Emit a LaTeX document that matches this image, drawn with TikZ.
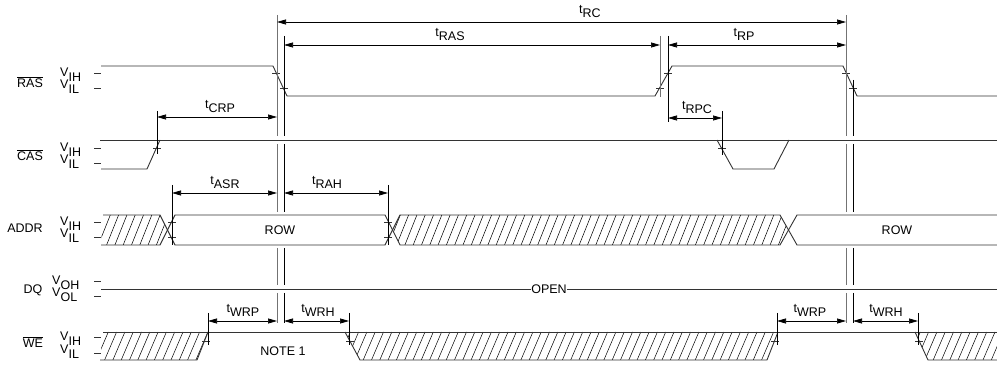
\documentclass[tikz,border=0pt]{standalone}
\usepackage{fontspec}
\setmainfont{Liberation Sans}
\usetikzlibrary{arrows.meta}
\newcommand{\lo}[1]{\raisebox{-4.5pt}{#1}}

\begin{document}
\begin{tikzpicture}[x=1pt,y=-1pt,
  wave/.style={black!80,line width=0.9pt},
  refg/.style={black!55,line width=1pt},
  refk/.style={black,line width=0.7pt},
  dim/.style={black,line width=0.7pt,{Triangle[length=9pt,width=5pt]}-{Triangle[length=9pt,width=5pt]}},
  hatch/.style={black,line width=0.5pt},
  lab/.style={font=\fontsize{12.5}{14}\selectfont,inner sep=0pt}]
\useasboundingbox (0,0) rectangle (997,366);

% signal names and levels
\node[lab] (nRAS) at (30,82) {$\overline{\mbox{RAS}}$};
\node[lab] (nCAS) at (30,155) {$\overline{\mbox{CAS}}$};
\node[lab] (nADDR) at (25,228) {ADDR};
\node[lab] (nDQ) at (33,290) {DQ};
\node[lab] (nWE) at (33,342) {$\overline{\mbox{WE}}$};
\node[lab,anchor=base west] (rasH) at (60,77) {V\lo{IH}};
\node[lab,anchor=base west] (rasL) at (60,89) {V\lo{IL}};
\node[lab,anchor=base west] (casH) at (60,152) {V\lo{IH}};
\node[lab,anchor=base west] (casL) at (60,164) {V\lo{IL}};
\node[lab,anchor=base west] (adrH) at (60,226) {V\lo{IH}};
\node[lab,anchor=base west] (adrL) at (60,238) {V\lo{IL}};
\node[lab,anchor=base west] (dqH) at (52,285) {V\lo{OH}};
\node[lab,anchor=base west] (dqL) at (52,297) {V\lo{OL}};
\node[lab,anchor=base west] (weH) at (60,341) {V\lo{IH}};
\node[lab,anchor=base west] (weL) at (60,354) {V\lo{IL}};
\foreach \y in {73,88,148,163,222,237,281,296,337,353}
  \draw[wave] (94,\y) -- (101,\y);

% RAS
\draw[wave] (101,66) -- (273,66) -- (287,96) -- (655,96) -- (672,66) -- (843,66) -- (857,96) -- (997,96);
% CAS
\draw[wave] (100,140) -- (997,140);
\draw[wave] (101,169) -- (147,169) -- (160,140);
\draw[wave] (717,140) -- (733,169) -- (774,169) -- (789,140);
% ADDR
\begin{scope}
\clip (103,215) -- (160,215) -- (167.5,230) -- (160,245) -- (101,245) -- cycle;
\foreach \x in {90,98.3,...,180} \draw[hatch] (\x,245) -- (\x+12,215);
\end{scope}
\begin{scope}
\clip (400,215) -- (780,215) -- (788.5,230) -- (780,245) -- (400,245) -- (392.5,230) -- cycle;
\foreach \x in {380,388.3,...,800} \draw[hatch] (\x,245) -- (\x+12,215);
\end{scope}
\draw[wave] (103,215) -- (160,215) -- (175,245) -- (385,245) -- (400,215) -- (780,215) -- (797,245) -- (997,245);
\draw[wave] (101,245) -- (160,245) -- (175,215) -- (385,215) -- (400,245) -- (780,245) -- (797,215) -- (997,215);
\node[lab] (row1) at (280,230) {ROW};
\node[lab] (row2) at (897,230) {ROW};
% DQ
\node[lab] (open) at (549,289) {OPEN};
\draw[wave] (101,289) -- (open.west);
\draw[wave] (open.east) -- (997,289);
% WE
\begin{scope}
\clip (103,332) -- (208,332) -- (197,360) -- (100,360) -- cycle;
\foreach \x in {88,96.3,...,215} \draw[hatch] (\x,360) -- (\x+12,332);
\end{scope}
\begin{scope}
\clip (345,332) -- (778,332) -- (767,360) -- (360,360) -- cycle;
\foreach \x in {330,338.3,...,790} \draw[hatch] (\x,360) -- (\x+12,332);
\end{scope}
\begin{scope}
\clip (915,332) -- (997,332) -- (997,360) -- (928,360) -- cycle;
\foreach \x in {900,908.3,...,1000} \draw[hatch] (\x,360) -- (\x+12,332);
\end{scope}
\draw[wave] (103,332) -- (997,332);
\draw[wave] (100,360) -- (197,360) -- (208,332);
\draw[wave] (345,332) -- (360,360) -- (767,360) -- (778,332);
\draw[wave] (915,332) -- (928,360) -- (997,360);
\node[lab] (note) at (283,351) {NOTE 1};

% crossing marks
\foreach \x/\y in {276/73,284/88,660/88,668/73,846/73,853/88,157/148,722/148,
  172/222,172/237,388/222,388/237,206/341,350/341,775/341,919/341}
  \draw[wave] (\x-4,\y) -- (\x+4,\y);

% reference lines
\foreach \x/\t in {277/15,846/15}
  \draw[refg] (\x,\t) -- (\x,136) (\x,144) -- (\x,212) (\x,248) -- (\x,285) (\x,293) -- (\x,323);
\foreach \x/\t in {284/36,853/80}
  \draw[refk] (\x,\t) -- (\x,136) (\x,144) -- (\x,212) (\x,248) -- (\x,285) (\x,293) -- (\x,323);
\draw[refg] (660,36) -- (660,97);
\draw[refk] (668,36) -- (668,122);
\draw[refk] (157,111) -- (157,154);
\draw[refk] (722,111) -- (722,155);
\draw[refk] (172,185) -- (172,245);
\draw[refk] (388,185) -- (388,245);
\foreach \x in {208,349,777,918} \draw[refk] (\x,313) -- (\x,345);

% timing arrows
\draw[dim] (277,22) -- (846,22);
\draw[dim] (284,45) -- (660,45);
\draw[dim] (668,45) -- (846,45);
\draw[dim] (157,117) -- (277,117);
\draw[dim] (668,118) -- (722,118);
\draw[dim] (172,193) -- (277,193);
\draw[dim] (284,193) -- (388,193);
\draw[dim] (208,321) -- (277,321);
\draw[dim] (284,321) -- (349,321);
\draw[dim] (777,321) -- (846,321);
\draw[dim] (853,321) -- (918,321);
\node[lab,anchor=south] (tRC) at (590,18) {t\lo{RC}};
\node[lab,anchor=south] (tRAS) at (450,41) {t\lo{RAS}};
\node[lab,anchor=south] (tRP) at (744,41) {t\lo{RP}};
\node[lab,anchor=south] (tCRP) at (220,113) {t\lo{CRP}};
\node[lab,anchor=south] (tRPC) at (697,114) {t\lo{RPC}};
\node[lab,anchor=south] (tASR) at (225,189) {t\lo{ASR}};
\node[lab,anchor=south] (tRAH) at (327,189) {t\lo{RAH}};
\node[lab,anchor=south] (tWRP1) at (243,317) {t\lo{WRP}};
\node[lab,anchor=south] (tWRH1) at (318,317) {t\lo{WRH}};
\node[lab,anchor=south] (tWRP2) at (810,317) {t\lo{WRP}};
\node[lab,anchor=south] (tWRH2) at (886,317) {t\lo{WRH}};

\end{tikzpicture}
\end{document}
